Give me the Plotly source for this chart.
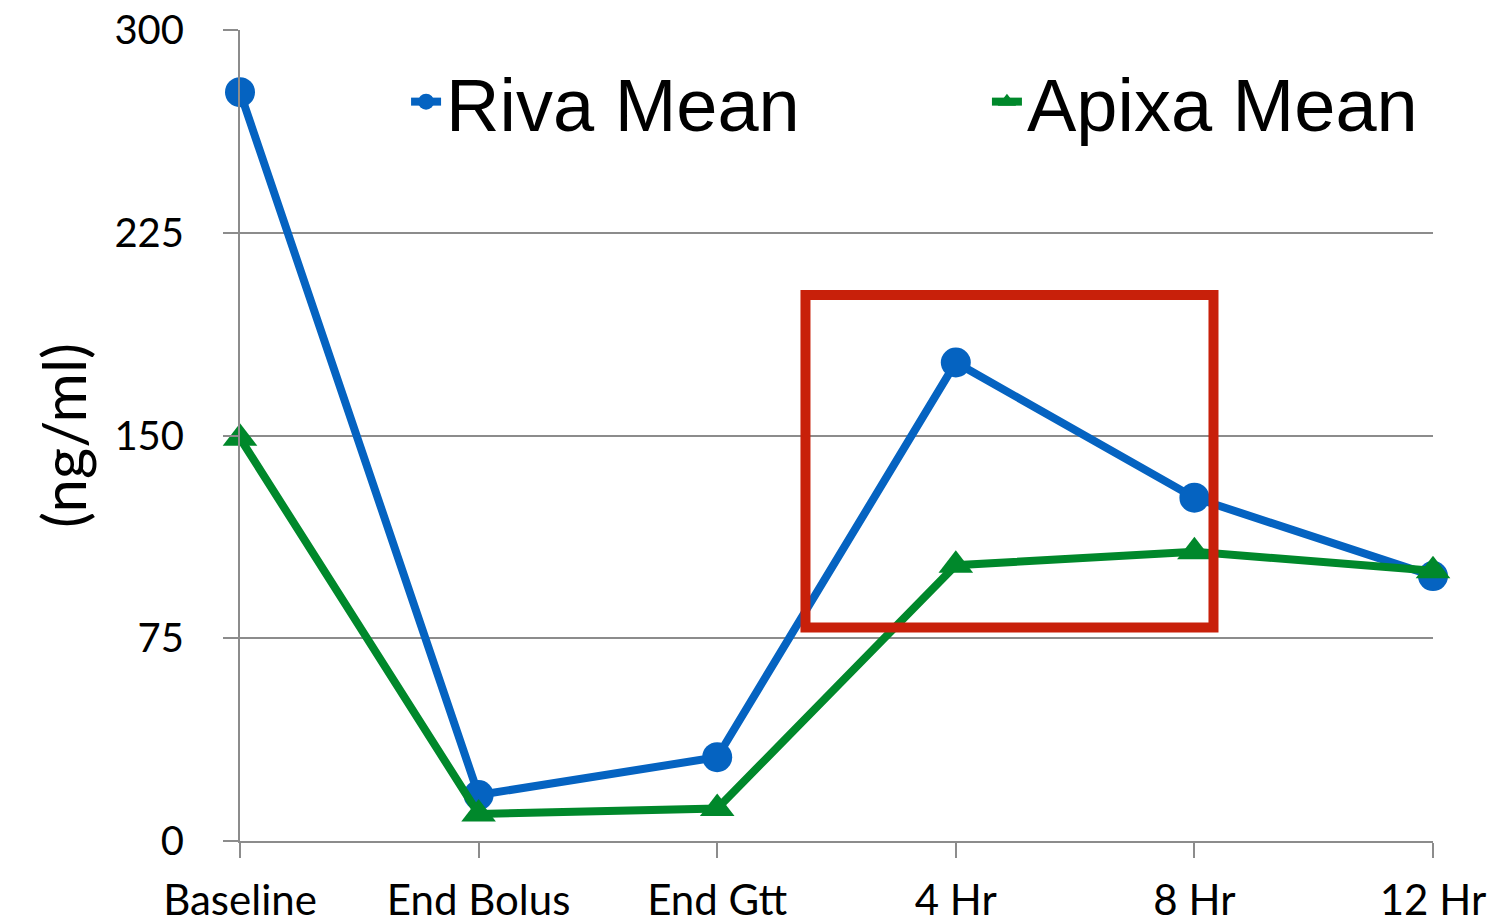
import plotly.graph_objects as go

# Sampling time points and mean plasma concentrations (ng/ml)
timepoints = ["Baseline", "End Bolus", "End Gtt", "4 Hr", "8 Hr", "12 Hr"]
riva_mean = [277, 17, 31, 177, 127, 98]
apixa_mean = [149, 10, 12, 102, 107, 100]

# Highlighted window (category index span, concentration span)
highlight_x = [2.37, 4.08]
highlight_y = [79, 202]

y_ticks = [0, 75, 150, 225, 300]

BLUE = "#0563C1"
GREEN = "#00882B"
GRID = "#8C8C8C"
SANS = "Lato, Carlito, Calibri, sans-serif"
LEGEND_FONT = dict(family="Liberation Sans, Arial, sans-serif", size=74, color="black")

fig = go.Figure()

fig.add_trace(go.Scatter(
    x=timepoints, y=riva_mean, name="Riva Mean",
    mode="lines+markers",
    line=dict(color=BLUE, width=8),
    marker=dict(symbol="circle", size=30, color=BLUE),
    cliponaxis=False,
    legend="legend",
))
fig.add_trace(go.Scatter(
    x=timepoints, y=apixa_mean, name="Apixa Mean",
    mode="lines+markers",
    line=dict(color=GREEN, width=8),
    marker=dict(symbol="triangle-up", size=30, color=GREEN),
    cliponaxis=False,
    legend="legend2",
))

# Red box around the post-infusion rebound
fig.add_shape(
    type="rect", xref="x", yref="y",
    x0=highlight_x[0], x1=highlight_x[1], y0=highlight_y[0], y1=highlight_y[1],
    line=dict(color="#C8200A", width=10),
    fillcolor="rgba(0,0,0,0)",
    layer="above",
)

legend_common = dict(
    orientation="h",
    yanchor="top", xanchor="left",
    font=LEGEND_FONT,
    bgcolor="rgba(0,0,0,0)",
)

fig.update_layout(
    width=1494, height=924,
    margin=dict(l=240, r=61, t=30, b=83, autoexpand=False),
    paper_bgcolor="white", plot_bgcolor="white",
    showlegend=True,
    legend=dict(x=0.1392, y=0.979, **legend_common),
    legend2=dict(x=0.6261, y=0.979, **legend_common),
    xaxis=dict(
        type="category",
        categoryorder="array", categoryarray=timepoints,
        range=[0, 5],
        showgrid=False,
        showline=True, linecolor=GRID, linewidth=2,
        ticks="outside", ticklen=15, tickwidth=2, tickcolor=GRID,
        tickfont=dict(family=SANS, size=42, color="black"),
        ticklabelstandoff=7,
        zeroline=False,
        automargin=False,
    ),
    yaxis=dict(
        range=[0, 300],
        tickvals=y_ticks,
        showgrid=True, gridcolor=GRID, gridwidth=2,
        showline=True, linecolor=GRID, linewidth=2,
        ticks="outside", ticklen=15, tickwidth=2, tickcolor=GRID,
        tickfont=dict(family=SANS, size=40, color="black"),
        ticklabelstandoff=31,
        zeroline=False,
        automargin=False,
        title=dict(text="(ng/ml)", font=dict(family=SANS, size=60, color="black"), standoff=8),
    ),
)

fig.write_html("out.html")
